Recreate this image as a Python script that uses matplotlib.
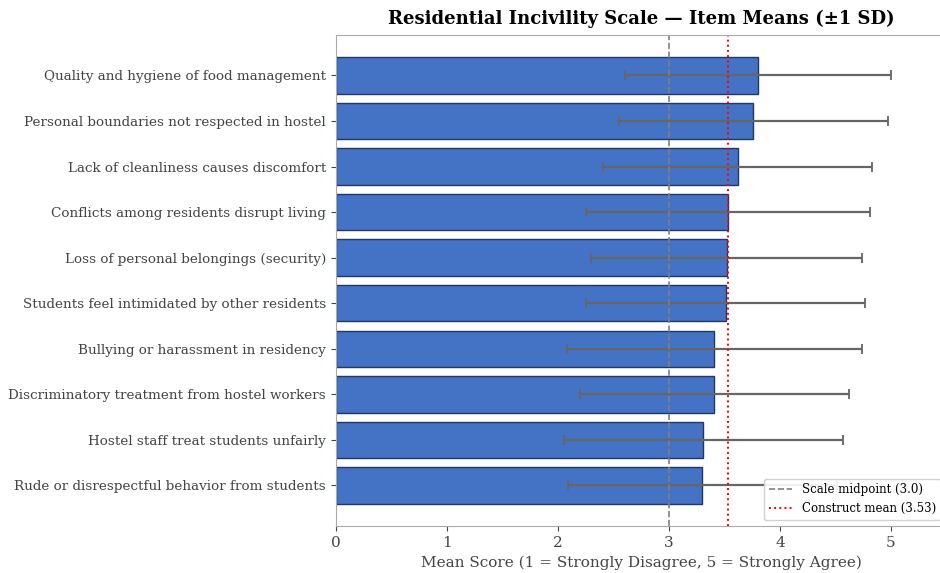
import numpy as np
import matplotlib
matplotlib.use("Agg")
import matplotlib.pyplot as plt

plt.rcParams['font.family'] = ['DejaVu Serif']

# item means and standard deviations (top to bottom)
items = [
    "Quality and hygiene of food management",
    "Personal boundaries not respected in hostel",
    "Lack of cleanliness causes discomfort",
    "Conflicts among residents disrupt living",
    "Loss of personal belongings (security)",
    "Students feel intimidated by other residents",
    "Bullying or harassment in residency",
    "Discriminatory treatment from hostel workers",
    "Hostel staff treat students unfairly",
    "Rude or disrespectful behavior from students",
]
means = [3.80, 3.76, 3.62, 3.53, 3.52, 3.51, 3.41, 3.41, 3.31, 3.30]
sds = [1.20, 1.21, 1.21, 1.28, 1.22, 1.26, 1.33, 1.21, 1.26, 1.21]
midpoint = 3.0
construct_mean = 3.53

fig = plt.figure(figsize=(9.4, 5.73), dpi=100)
ax = fig.add_axes([0.3574, 0.082, 0.6495, 0.857])

y = np.arange(len(items))
ax.barh(y, means, xerr=sds, height=0.8, color='#4472C4', edgecolor='#1F3864',
        linewidth=1.0, error_kw=dict(ecolor='#666666', elinewidth=1.6, capsize=3.5, capthick=1.3))
ax.invert_yaxis()
ax.set_yticks(y)
ax.set_yticklabels(items, fontsize=9.7, color='#444444')

ax.axvline(midpoint, color='gray', linestyle='--', linewidth=1.2, label='Scale midpoint (3.0)')
ax.axvline(construct_mean, color='red', linestyle=':', linewidth=1.4,
           label=f'Construct mean ({construct_mean:.2f})')

ax.set_xlim(0, 5.5)
ax.set_xticks([0, 1, 2, 3, 4, 5])
ax.tick_params(axis='x', labelsize=11, colors='#444444')
ax.tick_params(axis='y', colors='#444444')
ax.set_xlabel('Mean Score (1 = Strongly Disagree, 5 = Strongly Agree)', fontsize=11, color='#444444')
ax.set_title('Residential Incivility Scale — Item Means (±1 SD)', fontsize=13, fontweight='bold', pad=8)

for s in ax.spines.values():
    s.set_color('#aaaaaa')

ax.legend(loc='lower right', fontsize=8.5, framealpha=0.9)

fig.savefig('out.png', dpi=100)
